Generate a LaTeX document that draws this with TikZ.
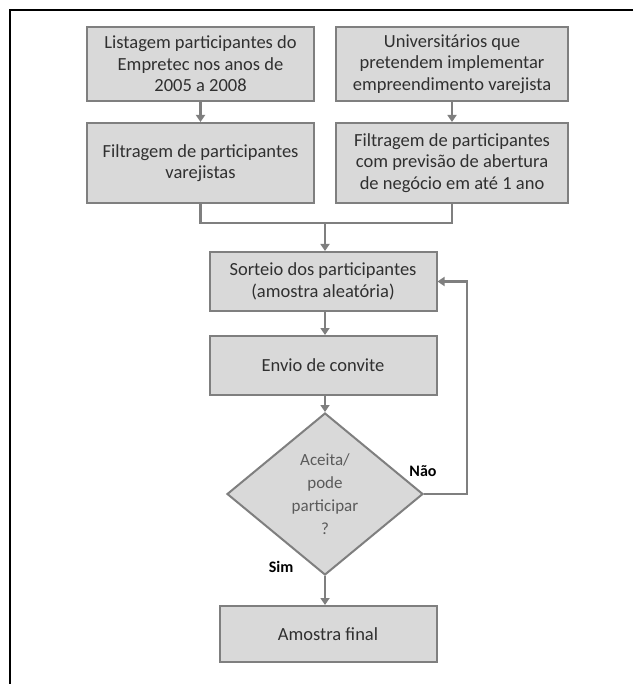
\documentclass[tikz,border=0pt]{standalone}
\usepackage{fontspec}
\setmainfont{Carlito}
\usetikzlibrary{shapes.geometric,arrows.meta,calc}
\definecolor{boxfill}{HTML}{D9D9D9}
\definecolor{boxline}{HTML}{7F7F7F}
\definecolor{txt}{HTML}{303030}
\begin{document}
\begin{tikzpicture}[x=1pt,y=-1pt,
  flowbox/.style={draw=boxline,fill=boxfill,line width=2pt,align=center,inner sep=2pt,text=txt,font=\fontsize{18.5}{21.5}\selectfont},
  conn/.style={draw=boxline,line width=2.2pt},
  arr/.style={conn,-{Triangle[length=7pt,width=9pt]}},
  lbl/.style={font=\fontsize{16}{18}\selectfont\bfseries,text=black}
]
\useasboundingbox (0,0) rectangle (633,684);
\draw[line width=2pt,black] (633,10) -- (9.5,10) -- (9.5,684);

\node[flowbox,minimum width=227pt,minimum height=74pt] (a) at (200.5,64) {Listagem participantes do\\Empretec nos anos de\\2005 a 2008};
\node[flowbox,minimum width=232pt,minimum height=74pt] (b) at (452,64) {Universitários que\\pretendem implementar\\empreendimento varejista};
\node[flowbox,minimum width=227pt,minimum height=80pt] (c) at (200.5,163) {Filtragem de participantes\\varejistas};
\node[flowbox,minimum width=232pt,minimum height=80pt] (d) at (452,163) {Filtragem de participantes\\com previsão de abertura\\de negócio em até 1 ano};
\node[flowbox,minimum width=227pt,minimum height=59pt] (e) at (323,281.5) {Sorteio dos participantes\\(amostra aleatória)};
\node[flowbox,minimum width=227pt,minimum height=59pt] (f) at (323,365.5) {Envio de convite};
\node[flowbox,shape=diamond,minimum width=196pt,minimum height=162pt,inner sep=0pt,font=\fontsize{17}{23}\selectfont,text=txt!80] (g) at (325,494) {Aceita/\\pode\\participar\\?};
\node[flowbox,minimum width=217pt,minimum height=56pt] (h) at (328,634) {Amostra final};

\coordinate (j) at (325,223);
\coordinate (fb) at (467,494);

\draw[arr] (a) -- (c);
\draw[arr] (b) -- (d);
\draw[conn] (c.south) -- (c.south |- j) -- (d.south |- j) -- (d.south);
\draw[arr] (j) -- (j |- e.north);
\draw[arr] (e.south -| j) -- (j |- f.north);
\draw[arr] (f.south -| j) -- (g.north);
\draw[arr] (g.south) -- (g.south |- h.north);
\draw[arr] (g.east) -- (fb) |- (e.east);

\node[lbl] (nao) at (423,471) {Não};
\node[lbl] (sim) at (281,567) {Sim};
\end{tikzpicture}
\end{document}
